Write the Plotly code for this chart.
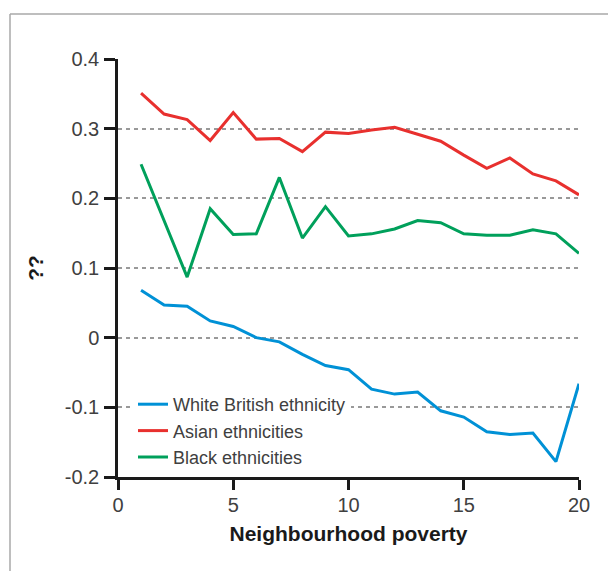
import plotly.graph_objects as go

poverty = list(range(1, 21))
white_british = [0.068, 0.047, 0.045, 0.024, 0.016, 0.000, -0.006, -0.024, -0.040, -0.046,
                 -0.074, -0.081, -0.078, -0.105, -0.114, -0.135, -0.139, -0.137, -0.178, -0.066]
asian = [0.351, 0.321, 0.313, 0.283, 0.323, 0.285, 0.286, 0.267, 0.295, 0.293,
         0.298, 0.302, 0.292, 0.282, 0.262, 0.243, 0.258, 0.235, 0.225, 0.205]
black = [0.249, 0.168, 0.087, 0.185, 0.148, 0.149, 0.230, 0.143, 0.188, 0.146,
         0.149, 0.156, 0.168, 0.165, 0.149, 0.147, 0.147, 0.155, 0.149, 0.121]

series_names = ["White British ethnicity", "Asian ethnicities", "Black ethnicities"]
colors = ["#0091D6", "#E8302E", "#00A05B"]

y_ticks = [-0.2, -0.1, 0, 0.1, 0.2, 0.3, 0.4]
y_ticktext = ["-0.2", "-0.1", "0", "0.1", "0.2", "0.3", "0.4"]
x_ticks = [0, 5, 10, 15, 20]

fig = go.Figure()
for name, vals, col in zip(series_names, [white_british, asian, black], colors):
    fig.add_trace(go.Scatter(x=poverty, y=vals, mode="lines", name=name,
                             line=dict(color=col, width=3)))

# page body has an 8px margin: figure origin sits at (8, 8) in the window
L, T, PW, PH = 110, 51, 461, 418
W, H = 616, 571

def px(x):  # window x -> paper x
    return (x - 8 - L) / PW

def py(y):  # window y -> paper y
    return (T + PH - (y - 8)) / PH

font_family = "Liberation Sans, Arial, sans-serif"
fig.update_layout(
    width=W, height=H,
    margin=dict(l=L, r=W - L - PW, t=T, b=H - T - PH),
    paper_bgcolor="white", plot_bgcolor="white",
    font=dict(family=font_family, color="#404040", size=20),
    showlegend=True,
    legend=dict(x=px(133), y=py(386), xanchor="left", yanchor="top",
                bgcolor="white", font=dict(size=18, color="#404040"),
                tracegroupgap=0, itemwidth=30),
    xaxis=dict(range=[0, 20], tickvals=x_ticks, showgrid=False, zeroline=False,
               showline=True, linecolor="#1a1a1a", linewidth=2.5,
               ticks="outside", ticklen=10, tickwidth=2.5, tickcolor="#1a1a1a",
               tickfont=dict(size=20, color="#404040"), ticklabelstandoff=-2,
               title=dict(text="<b>Neighbourhood poverty</b>", standoff=12,
                          font=dict(size=21, color="#1a1a1a"))),
    yaxis=dict(range=[-0.2, 0.4], tickvals=y_ticks, ticktext=y_ticktext,
               showgrid=True, gridcolor="#999999", gridwidth=1.5, griddash="4px,4px",
               zeroline=False,
               showline=True, linecolor="#1a1a1a", linewidth=2.5,
               ticks="outside", ticklen=11, tickwidth=2.5, tickcolor="#1a1a1a",
               tickfont=dict(size=20, color="#404040"), ticklabelstandoff=1,
               title=dict(text="<b>??</b>", standoff=16,
                          font=dict(size=21, color="#1a1a1a"))),
    shapes=[
        dict(type="line", xref="paper", yref="paper",
             x0=px(10), x1=px(640), y0=py(14), y1=py(14),
             line=dict(color="#a8a8a8", width=1.5)),
        dict(type="line", xref="paper", yref="paper",
             x0=px(10), x1=px(10), y0=py(14), y1=py(600),
             line=dict(color="#a8a8a8", width=1.5)),
    ],
)

fig.write_html("out.html")
